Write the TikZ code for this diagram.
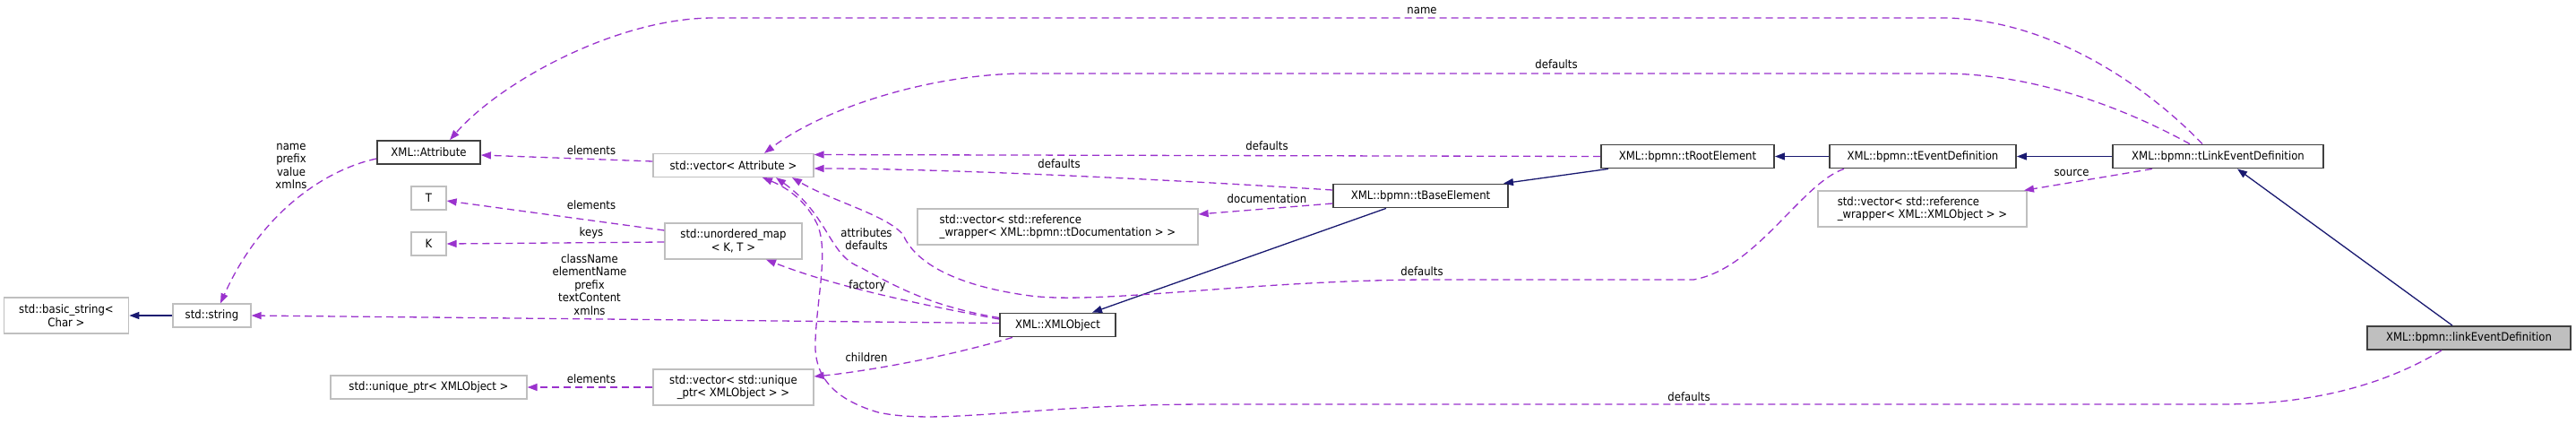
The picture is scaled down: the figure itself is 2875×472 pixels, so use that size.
\documentclass[tikz,border=0pt]{standalone}
\usepackage{fontspec}
\setmainfont{DejaVu Sans Condensed}
\usetikzlibrary{arrows.meta,calc}
\definecolor{usecol}{HTML}{9A32CD}
\definecolor{inhcol}{HTML}{191970}
\definecolor{extbd}{HTML}{BFBFBF}
\definecolor{docbd}{HTML}{404040}
\definecolor{focfill}{HTML}{BFBFBF}
\begin{document}
\begin{tikzpicture}[x=1pt,y=-1pt,
  txt/.style={font=\fontsize{13}{14.5}\selectfont},
  box/.style={txt, rectangle, inner sep=0pt, align=center, line width=1.2pt},
  ext/.style={box, draw=extbd},
  docu/.style={box, draw=docbd, line width=1.8pt},
  focal/.style={box, draw=docbd, fill=focfill, line width=1.8pt},
  lbl/.style={txt, inner sep=0pt, align=center},
  inh/.style={draw=inhcol, line width=1.3pt, -{Triangle[length=11pt,width=8pt]}},
  use/.style={draw=usecol, line width=1.3pt, dash pattern=on 8pt off 5pt, -{Triangle[length=11pt,width=8pt]}},
]
\useasboundingbox (0,0) rectangle (2875,472);

% class boxes
\node[ext, minimum width=139.5pt, minimum height=40pt] (bstr) at (74,352) {std::basic\_string<\\Char >};
\node[ext, minimum width=87pt, minimum height=26pt] (str) at (236.5,352) {std::string};
\node[docu, minimum width=115pt, minimum height=26pt] (attr) at (478.5,170) {XML::Attribute};
\node[ext, minimum width=39pt, minimum height=26pt] (T) at (478.5,221) {T};
\node[ext, minimum width=39pt, minimum height=26pt] (K) at (478.5,272) {K};
\node[ext, minimum width=219pt, minimum height=26pt] (uptr) at (478.5,432) {std::unique\_ptr< XMLObject >};
\node[ext, minimum width=179pt, minimum height=26pt] (vattr) at (818.5,184.5) {std::vector< Attribute >};
\node[ext, minimum width=153pt, minimum height=40pt] (umap) at (818.5,269) {std::unordered\_map\\< K, T >};
\node[ext, minimum width=179pt, minimum height=40pt] (vuptr) at (818.5,432) {std::vector< std::unique\\\_ptr< XMLObject > >};
\node[docu, minimum width=129pt, minimum height=26pt] (xmlobj) at (1180.5,362.5) {XML::XMLObject};
\node[ext, minimum width=313pt, minimum height=40pt, align=left] (vdoc) at (1180.5,253) {std::vector< std::reference\\\_wrapper< XML::bpmn::tDocumentation > >};
\node[docu, minimum width=195pt, minimum height=26pt] (tbase) at (1585.5,218.5) {XML::bpmn::tBaseElement};
\node[docu, minimum width=193pt, minimum height=26pt] (troot) at (1883.5,174.5) {XML::bpmn::tRootElement};
\node[docu, minimum width=208pt, minimum height=26pt] (tevent) at (2146,174.5) {XML::bpmn::tEventDefinition};
\node[ext, minimum width=233pt, minimum height=40pt, align=left] (vxml) at (2145.5,233) {std::vector< std::reference\\\_wrapper< XML::XMLObject > >};
\node[docu, minimum width=235pt, minimum height=26pt] (tlink) at (2475.5,174.5) {XML::bpmn::tLinkEventDefinition};
\node[focal, minimum width=227pt, minimum height=26pt] (link) at (2755.5,377) {XML::bpmn::linkEventDefinition};

% inheritance
\draw[inh] (str.west) -- (bstr.east);
\draw[inh] ($(tbase.south)+(-38.5,0)$) -- ($(xmlobj.north)+(38.5,0)$);
\draw[inh] ($(troot.south)+(-88.5,0)$) -- ($(tbase.north)+(92.5,0)$);
\draw[inh] (tevent.west) -- (troot.east);
\draw[inh] (tlink.west) -- (tevent.east);
\draw[inh] ($(link.north)+(-18.5,0)$) -- ($(tlink.south)+(21.5,0)$);

% usage
\draw[use] ($(vattr.west)+(0,-4.5)$) -- ($(attr.east)+(0,3)$);
\draw[use] ($(umap.west)+(0,-12)$) -- ($(T.east)+(0,3)$);
\draw[use] ($(umap.west)+(0,1)$) -- (K.east);
\draw[use] (vuptr.west) -- (uptr.east);
\draw[use] ($(attr.west)+(0,7)$) .. controls (360,190) and (290,240) .. ($(str.north)+(9.5,0)$);
\draw[use] ($(xmlobj.west)+(0,-2)$) -- (str.east);
\draw[use] ($(xmlobj.west)+(0,-6.5)$) .. controls (1000,335) and (920,315) .. ($(umap.south)+(36.5,0)$);
\draw[use] ($(xmlobj.west)+(0,-8)$) .. controls (1040,342) and (1000,320) .. (960,298) .. controls (925,285) and (925,240) .. ($(vattr.south)+(47.5,0)$);
\draw[use] ($(xmlobj.south)+(-50.5,0)$) .. controls (1050,400) and (960,415) .. ($(vuptr.east)+(0,-12)$);
\draw[use] (troot.west) -- ($(vattr.east)+(0,-12)$);
\draw[use] ($(tbase.west)+(0,-6.5)$) .. controls (1300,200) and (1050,188) .. ($(vattr.east)+(0,3.5)$);
\draw[use] ($(tbase.west)+(0,8.5)$) -- ($(vdoc.east)+(0,-14)$);
\draw[use] ($(tevent.south)+(-88,0)$) .. controls (2010,205) and (1960,300) .. (1890,312) -- (1600,312)
  .. controls (1400,312) and (1230,340) .. (1150,330) .. controls (1060,318) and (1020,290) .. (1008,262)
  .. controls (990,240) and (930,225) .. ($(vattr.south)+(65.5,0)$);
\draw[use] ($(tlink.north)+(-17.5,0)$) .. controls (2400,100) and (2290,20) .. (2167,20) -- (796,20)
  .. controls (690,20) and (560,90) .. ($(attr.north)+(23.5,0)$);
\draw[use] ($(tlink.north)+(-31.5,0)$) .. controls (2370,120) and (2270,82) .. (2167,82) -- (1146,82)
  .. controls (1040,82) and (920,120) .. ($(vattr.north)+(34.5,0)$);
\draw[use] ($(tlink.south)+(-73.5,0)$) -- ($(vxml.north)+(113.5,0)$);
\draw[use] ($(link.south)+(-30.5,0)$) .. controls (2660,430) and (2580,451) .. (2480,451) -- (1350,451)
  .. controls (1150,451) and (1050,475) .. (980,460) .. controls (930,445) and (908,420) .. (910,380)
  .. controls (912,330) and (925,280) .. (912,250) .. controls (900,225) and (880,210) .. ($(vattr.south)+(32.5,0)$);

% labels
\node[lbl] (l1) at (325,185.5) {name\\prefix\\value\\xmlns};
\node[lbl] (l2) at (660,168) {elements};
\node[lbl] (l3) at (660,229) {elements};
\node[lbl] (l4) at (660,260) {keys};
\node[lbl] (l5) at (658,317.5) {className\\elementName\\prefix\\textContent\\xmlns};
\node[lbl] (l6) at (660,423) {elements};
\node[lbl] (l7) at (967,266.5) {attributes\\defaults};
\node[lbl] (l8) at (968,319) {factory};
\node[lbl] (l9) at (967,399) {children};
\node[lbl] (l10) at (1182,183) {defaults};
\node[lbl] (l11) at (1414,163) {defaults};
\node[lbl] (l12) at (1414,222) {documentation};
\node[lbl] (l13) at (1587,303) {defaults};
\node[lbl] (l14) at (1737,72) {defaults};
\node[lbl] (l15) at (1587,12) {name};
\node[lbl] (l16) at (1885,443) {defaults};
\node[lbl] (l17) at (2312,193) {source};
\end{tikzpicture}
\end{document}
